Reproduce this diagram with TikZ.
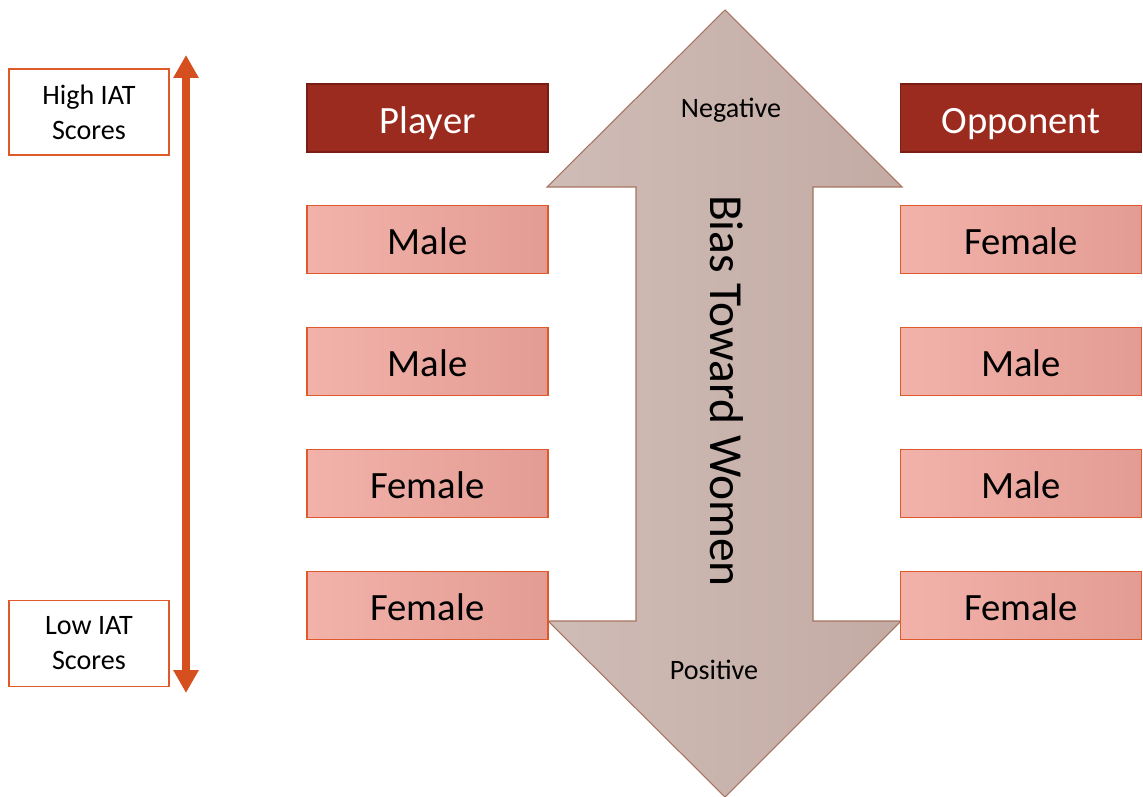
\documentclass[tikz,border=0pt]{standalone}
\usepackage{fontspec}
\setmainfont{Carlito}
\usepackage{xcolor}
\usepackage{tikz}
\usetikzlibrary{positioning,arrows.meta}

\definecolor{headred}{HTML}{9B2B1F}
\definecolor{headline}{HTML}{7A1E15}
\definecolor{pinkA}{HTML}{F2B2AA}
\definecolor{pinkB}{HTML}{E39C93}
\definecolor{pinkline}{HTML}{E0592B}
\definecolor{scaleorange}{HTML}{D64F1E}
\definecolor{biasA}{HTML}{CFBCB6}
\definecolor{biasB}{HTML}{C3ABA4}
\definecolor{biasline}{HTML}{A7735F}

\begin{document}
\begin{tikzpicture}[
            x=0.02cm, y=-0.02cm,
            headbox/.style={rectangle, fill=headred, draw=headline, line width=0.9pt, text=white,
                minimum width=4.82cm, minimum height=1.36cm, text height=18pt, text depth=0pt,
                font=\fontsize{22}{26}\selectfont},
            genderbox/.style={rectangle, left color=pinkA, right color=pinkB, draw=pinkline, line width=0.9pt,
                minimum width=4.82cm, minimum height=1.36cm, text height=17pt, text depth=0pt,
                font=\fontsize{22}{26}\selectfont},
            iatbox/.style={rectangle, draw=pinkline, line width=0.6pt, fill=white, align=center,
                minimum width=3.2cm, minimum height=1.72cm, font=\fontsize{16}{20}\selectfont},
            auto
        ]
            \useasboundingbox (0,0) rectangle (1143,797);
            % Bias arrow
            \draw[left color=biasA, right color=biasB, draw=biasline, line width=0.6pt]
                (725,10) -- (902,187) -- (813,187) -- (813,621) -- (901,621) -- (725,797)
                -- (548,621) -- (636,621) -- (636,187) -- (547,187) -- cycle;
            \node[font=\fontsize{16}{20}\selectfont] (neg) at (731,110) {Negative};
            \node[font=\fontsize{16}{20}\selectfont] (pos) at (714,670) {Positive};
            \node[rotate=-90, font=\fontsize{27}{32}\selectfont] (bias) at (727,391) {Bias Toward Women};
            % IAT scale
            \node[iatbox] (high) at (89,112) {High IAT\\Scores};
            \node[iatbox] (low) at (89,643.5) {Low IAT\\Scores};
            \coordinate (stop) at (186,55);
            \coordinate (sbot) at (186,693);
            \draw[scaleorange, line width=4.5pt, {Triangle[width=13.6pt,length=13pt]}-{Triangle[width=13.6pt,length=13pt]}]
                (stop) -- (sbot);
            % Player column
            \node[headbox] (pl) at (427.5,118) {Player};
            \node[genderbox] (p1) at (427.5,239.5) {Male};
            \node[genderbox] (p2) at (427.5,361.5) {Male};
            \node[genderbox] (p3) at (427.5,483.5) {Female};
            \node[genderbox] (p4) at (427.5,605.5) {Female};
            % Opponent column
            \node[headbox] (op) at (1021,118) {Opponent};
            \node[genderbox] (o1) at (1021,239.5) {Female};
            \node[genderbox] (o2) at (1021,361.5) {Male};
            \node[genderbox] (o3) at (1021,483.5) {Male};
            \node[genderbox] (o4) at (1021,605.5) {Female};
        \end{tikzpicture}
\end{document}
